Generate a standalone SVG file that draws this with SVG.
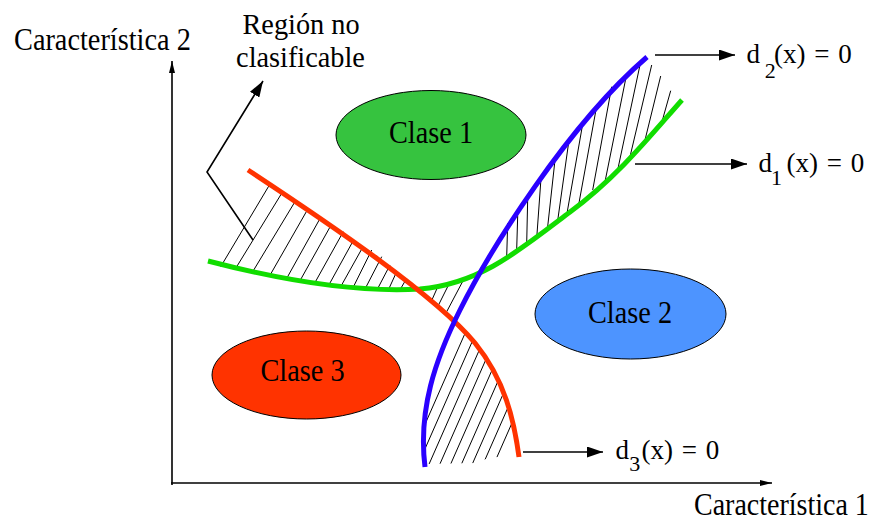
<svg xmlns="http://www.w3.org/2000/svg" width="871" height="522" viewBox="0 0 871 522">
<defs>
<style>
.t{font-family:"Liberation Serif","Times New Roman",serif;font-size:32px;fill:#000}
.r{font-size:30px}
.d{font-family:"Liberation Serif","Times New Roman",serif;font-size:27px;fill:#000;word-spacing:2px}
.s{font-size:22px}
.h{stroke:#000;stroke-width:1;fill:none}
.ar{stroke:#000;stroke-width:1.6;fill:none}
.cv{fill:none;stroke-width:5;stroke-linecap:butt}
.el{stroke:#000;stroke-width:1}
</style>
<marker id="big" viewBox="0 0 16 11" refX="16" refY="5.5" markerWidth="16" markerHeight="11" markerUnits="userSpaceOnUse" orient="auto"><path d="M0,0L16,5.5L0,11z" fill="#000"/></marker>
<marker id="sm" viewBox="0 0 12 6" refX="12" refY="3" markerWidth="12" markerHeight="6" markerUnits="userSpaceOnUse" orient="auto"><path d="M0,0L12,3L0,6z" fill="#000"/></marker>
<clipPath id="r4"><polygon points="456,318 451,329 443,348 430.5,386 424,425 425,450 426,464 475,463 486,459 497,457 519,457 514,429 506,400 494,371 475,343 458,325"/></clipPath>
</defs>
<rect width="871" height="522" fill="#fff"/>

<g id="axes">
<path class="ar" d="M172,485V61" marker-end="url(#sm)"/>
<path class="ar" d="M171,483H772" marker-end="url(#sm)"/>
</g>

<g id="hatching">
<g id="hatch-r1">
<line class="h" x1="220.7" y1="266.7" x2="270" y2="184"/>
<line class="h" x1="236.7" y1="266.7" x2="281.7" y2="193.3"/>
<line class="h" x1="253.3" y1="270.7" x2="296" y2="200"/>
<line class="h" x1="270.7" y1="274" x2="307.3" y2="210"/>
<line class="h" x1="287.3" y1="277.3" x2="320.7" y2="217.3"/>
<line class="h" x1="300" y1="280.7" x2="331.7" y2="224"/>
<line class="h" x1="314" y1="284.3" x2="343.3" y2="231.7"/>
<line class="h" x1="328.3" y1="286" x2="352.7" y2="241.7"/>
<line class="h" x1="340.7" y1="286.7" x2="362.7" y2="247.3"/>
<line class="h" x1="352.7" y1="288.3" x2="371.7" y2="250"/>
<line class="h" x1="365" y1="289" x2="381.7" y2="256.7"/>
<line class="h" x1="377.3" y1="289.3" x2="390" y2="265"/>
<line class="h" x1="388.3" y1="290" x2="396.7" y2="271.7"/>
<line class="h" x1="399.3" y1="291" x2="406.7" y2="278.3"/>
</g>
<g id="hatch-r2">
<line class="h" x1="431" y1="302" x2="439" y2="284"/>
<line class="h" x1="437.7" y1="306.7" x2="450" y2="282"/>
<line class="h" x1="446.7" y1="311.7" x2="465" y2="277"/>
</g>
<g id="hatch-r3">
<line class="h" x1="506.7" y1="256.7" x2="507.7" y2="223.3"/>
<line class="h" x1="516.7" y1="249.3" x2="517.7" y2="215.7"/>
<line class="h" x1="526.7" y1="243.3" x2="527.7" y2="198.3"/>
<line class="h" x1="536.7" y1="238.3" x2="541" y2="178.3"/>
<line class="h" x1="547.3" y1="230" x2="555" y2="160"/>
<line class="h" x1="557.3" y1="223.3" x2="568.3" y2="145"/>
<line class="h" x1="566.7" y1="215" x2="582.7" y2="124"/>
<line class="h" x1="578.3" y1="206.7" x2="596.7" y2="106"/>
<line class="h" x1="592.7" y1="190" x2="611.7" y2="86.7"/>
<line class="h" x1="605" y1="181.7" x2="626.7" y2="74"/>
<line class="h" x1="617.3" y1="171.7" x2="640.7" y2="61.7"/>
<line class="h" x1="630" y1="156.7" x2="651.7" y2="65"/>
<line class="h" x1="645" y1="140" x2="660.7" y2="76"/>
<line class="h" x1="661.7" y1="122.7" x2="670.7" y2="90.7"/>
</g>
<g id="hatch-r4" clip-path="url(#r4)">
<line class="h" x1="404" y1="472" x2="475.3" y2="310"/>
<line class="h" x1="414.8" y1="472" x2="486.1" y2="310"/>
<line class="h" x1="425.6" y1="472" x2="496.9" y2="310"/>
<line class="h" x1="436.4" y1="472" x2="507.7" y2="310"/>
<line class="h" x1="447.2" y1="472" x2="518.5" y2="310"/>
<line class="h" x1="458" y1="472" x2="529.3" y2="310"/>
<line class="h" x1="468.8" y1="472" x2="540.1" y2="310"/>
<line class="h" x1="479.6" y1="472" x2="550.9" y2="310"/>
<line class="h" x1="490.4" y1="472" x2="561.7" y2="310"/>
</g>
</g>

<g id="connectors">
<path id="d1-curve" class="cv" stroke="#11dd00" d="M208,261C300,285 370,292 420,289C480,284 520,250 570,212C620,175 655,130 682,100"/>
<path id="d3-curve" class="cv" stroke="#ff3300" d="M248,170C330,224 435,295 475,343C505,380 514,420 519,457"/>
<path id="d2-curve" class="cv" stroke="#2a00ff" d="M425,467C418,410 435,360 460,310C490,250 567,126 647,57"/>
<polyline class="ar" points="253,240 207,172 263,81" marker-end="url(#big)"/>
<path class="ar" d="M655,55H735" marker-end="url(#big)"/>
<path class="ar" d="M635,164H747" marker-end="url(#big)"/>
<path class="ar" d="M523,452H603" marker-end="url(#big)"/>
</g>

<g id="clase1">
<ellipse class="el" cx="431" cy="135" rx="95" ry="44.5" fill="#36c33f"/>
<text class="t" text-anchor="middle" transform="translate(431,142.7) scale(0.885,1)">Clase 1</text>
</g>
<g id="clase2">
<ellipse class="el" cx="630.5" cy="314" rx="95.5" ry="45" fill="#4d94ff"/>
<text class="t" text-anchor="middle" transform="translate(630,322.7) scale(0.885,1)">Clase 2</text>
</g>
<g id="clase3">
<ellipse class="el" cx="306.5" cy="375" rx="94.5" ry="44" fill="#ff3300"/>
<text class="t" text-anchor="middle" transform="translate(302.5,381) scale(0.885,1)">Clase 3</text>
</g>

<g id="labels">
<text class="t" transform="translate(14,50) scale(0.885,1)">Característica 2</text>
<text class="t" transform="translate(694,515) scale(0.875,1)">Característica 1</text>
<text class="t r" text-anchor="middle" transform="translate(301,34.3) scale(0.944,1)">Región no</text>
<text class="t r" text-anchor="middle" transform="translate(300.5,66.7) scale(0.944,1)">clasificable</text>
<text class="d"><tspan x="746.5" y="63.3">d</tspan><tspan class="s" x="764.7" y="78">2</tspan><tspan x="774" y="63.3">(x) = 0</tspan></text>
<text class="d"><tspan x="758.5" y="171.7">d</tspan><tspan class="s" x="771" y="185">1</tspan><tspan x="786.6" y="171.7">(x) = 0</tspan></text>
<text class="d"><tspan x="615.5" y="459.3">d</tspan><tspan class="s" x="629.2" y="470.5">3</tspan><tspan x="641.5" y="459.3">(x) = 0</tspan></text>
</g>
</svg>
